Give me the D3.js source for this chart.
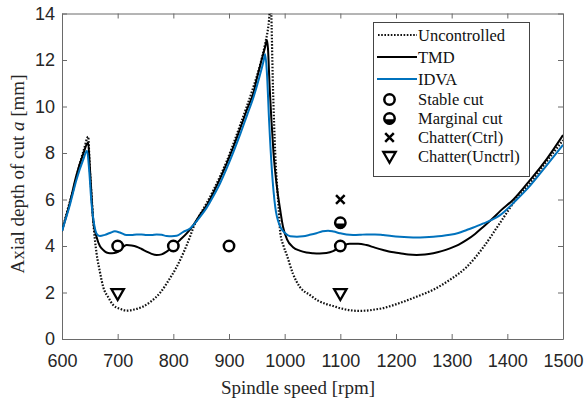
<!DOCTYPE html>
<html>
<head>
<meta charset="utf-8">
<script src="https://cdn.jsdelivr.net/npm/d3@7"></script>
<style>
  html, body { margin: 0; padding: 0; background: #fff; }
  svg { display: block; }
</style>
</head>
<body>
<svg id="chart" width="584" height="403"></svg>
<script>
// ---------- DATA ----------
const xTicks = [600, 700, 800, 900, 1000, 1100, 1200, 1300, 1400, 1500];
const yTicks = [0, 2, 4, 6, 8, 10, 12, 14];

// Uncontrolled (dotted)
const uncRpm = [600,610,620,630,640,647,650,653,656,662,668,674,683,692,704,716,730,745,760,776,791,806,818,830,836,848,860,872,884,896,908,920,932,944,956,965,971,975,979,983,989,992,998,1004,1015,1027,1045,1060,1075,1087,1099,1117,1132,1147,1162,1177,1192,1207,1237,1267,1297,1327,1357,1387,1417,1441,1471,1500];
const uncA   = [4.65,5.55,6.4,7.35,8.2,8.7,7.3,6.2,5.1,3.7,2.9,2.24,1.8,1.46,1.3,1.22,1.27,1.39,1.62,1.98,2.5,3.1,3.7,4.4,4.8,5.35,5.85,6.4,7.0,7.65,8.4,9.2,10.0,10.85,11.8,12.7,13.5,14.4,10.8,8.0,5.7,4.6,4.0,3.6,2.8,2.25,1.9,1.65,1.5,1.42,1.33,1.24,1.21,1.22,1.27,1.33,1.43,1.55,1.82,2.12,2.55,3.1,3.95,5.0,6.05,6.7,7.65,8.55];

// TMD (solid black)
const tmdRpm = [600,614,626,638,647,650,653,656,662,668,674,680,686,694,701,708,716,725,734,743,752,761,770,779,788,800,812,824,836,848,860,872,884,896,908,920,932,944,950,958,965,968,970,973,976,980,986,992,997,1004,1015,1027,1039,1051,1063,1075,1087,1099,1108,1117,1132,1147,1162,1177,1192,1207,1222,1237,1252,1267,1282,1297,1312,1327,1342,1357,1372,1387,1411,1441,1471,1500];
const tmdA   = [4.65,5.85,7.05,7.95,8.45,7.4,6.2,5.1,4.4,4.0,3.83,3.72,3.69,3.7,3.76,3.92,4.04,4.02,3.97,3.87,3.76,3.66,3.61,3.64,3.76,4.0,4.26,4.54,4.9,5.35,5.75,6.3,6.9,7.55,8.27,9.05,9.85,10.6,11.2,11.95,12.57,12.86,12.5,10.85,9.5,7.99,6.55,5.55,4.83,4.3,3.95,3.8,3.72,3.69,3.68,3.7,3.78,3.95,4.05,4.1,4.1,4.04,3.93,3.83,3.74,3.69,3.63,3.61,3.63,3.69,3.78,3.9,4.05,4.26,4.52,4.83,5.15,5.5,6.0,6.84,7.75,8.77];

// IDVA (solid blue)
const idvaRpm = [600,614,626,638,645,649,653,658,663,668,677,686,695,704,716,725,734,743,752,761,770,779,788,797,806,818,830,836,848,860,872,884,896,908,920,932,944,955,962,965,968,972,977,983,992,1001,1010,1022,1033,1045,1057,1068,1078,1088,1099,1111,1123,1135,1147,1162,1177,1192,1207,1222,1237,1252,1267,1282,1297,1312,1327,1342,1357,1372,1387,1417,1441,1471,1500];
const idvaA   = [4.65,5.75,6.85,7.7,8.1,7.2,5.84,4.9,4.5,4.43,4.48,4.56,4.63,4.58,4.47,4.47,4.5,4.5,4.47,4.47,4.5,4.48,4.43,4.42,4.44,4.61,4.75,4.9,5.25,5.65,6.15,6.7,7.35,8.05,8.8,9.6,10.4,11.3,11.95,12.25,11.5,9.4,7.27,5.69,4.83,4.55,4.42,4.4,4.42,4.48,4.55,4.63,4.66,4.62,4.55,4.49,4.47,4.48,4.5,4.5,4.47,4.43,4.4,4.38,4.37,4.38,4.4,4.43,4.48,4.56,4.69,4.82,4.97,5.12,5.33,6.0,6.6,7.48,8.35];

// Experimental cuts
const stableRpm = [700, 800, 900, 1100];
const stableA   = [4, 4, 4, 4];
const marginalRpm = [1100];
const marginalA   = [5];
const chatterCtrlRpm = [1100];
const chatterCtrlA   = [6];
const chatterUnctrlRpm = [700, 1100];
const chatterUnctrlA   = [1.95, 1.95];

const legendLabels = ["Uncontrolled", "TMD", "IDVA", "Stable cut", "Marginal cut", "Chatter(Ctrl)", "Chatter(Unctrl)"];

// ---------- CHART ----------
const svg = d3.select("#chart");
const L = 62, R = 563, T = 13.5, B = 339;
const x = d3.scaleLinear().domain([600, 1500]).range([L, R]);
const y = d3.scaleLinear().domain([0, 14]).range([B, T]);
const BLUE = "#0072BD";
const AXC = "#6a6a6a";
const TXT = "#262626";

svg.append("rect").attr("width", 584).attr("height", 403).attr("fill", "#fff");

svg.append("defs").append("clipPath").attr("id", "clip")
  .append("rect").attr("x", L).attr("y", T).attr("width", R - L).attr("height", B - T);

// Axes
function styleAxis(g) {
  g.select(".domain").attr("stroke", AXC).attr("stroke-width", 1);
  g.selectAll(".tick line").attr("stroke", AXC).attr("stroke-width", 1);
  g.selectAll(".tick text").attr("fill", TXT)
    .style("font-family", "'Liberation Sans', Arial, sans-serif").style("font-size", "18px");
}
const gx = svg.append("g").attr("transform", `translate(0,${B})`)
  .call(d3.axisBottom(x).tickValues(xTicks).tickSize(-5).tickSizeOuter(0).tickFormat(d3.format("d")));
styleAxis(gx);
gx.selectAll(".tick text").attr("y", 27.5).attr("dy", null);

const gy = svg.append("g").attr("transform", `translate(${L},0)`)
  .call(d3.axisLeft(y).tickValues(yTicks).tickSize(-5).tickSizeOuter(0).tickPadding(7));
styleAxis(gy);

const gt = svg.append("g").attr("transform", `translate(0,${T})`)
  .call(d3.axisTop(x).tickValues(xTicks).tickSize(-5).tickSizeOuter(0).tickFormat(""));
styleAxis(gt);
const gr = svg.append("g").attr("transform", `translate(${R},0)`)
  .call(d3.axisRight(y).tickValues(yTicks).tickSize(-5).tickSizeOuter(0).tickFormat(""));
styleAxis(gr);

// Lines
const line = d3.line().x(d => x(d[0])).y(d => y(d[1])).curve(d3.curveMonotoneX);
const plot = svg.append("g").attr("clip-path", "url(#clip)");
const zip = (a, b) => a.map((v, i) => [v, b[i]]);

plot.append("path").datum(zip(uncRpm, uncA)).attr("d", line)
  .attr("fill", "none").attr("stroke", "#111").attr("stroke-width", 2.2).attr("stroke-dasharray", "1.6,1.6");
plot.append("path").datum(zip(tmdRpm, tmdA)).attr("d", line)
  .attr("fill", "none").attr("stroke", "#000").attr("stroke-width", 2);
plot.append("path").datum(zip(idvaRpm, idvaA)).attr("d", line)
  .attr("fill", "none").attr("stroke", BLUE).attr("stroke-width", 2);

// Marker drawers
const MR = 5.2;
function drawCircle(g, cx, cy) {
  g.append("circle").attr("cx", cx).attr("cy", cy).attr("r", MR)
    .attr("fill", "#fff").attr("stroke", "#000").attr("stroke-width", 2.5);
}
function drawMarginal(g, cx, cy) {
  g.append("circle").attr("cx", cx).attr("cy", cy).attr("r", MR)
    .attr("fill", "#fff").attr("stroke", "#000").attr("stroke-width", 2.5);
  g.append("path")
    .attr("d", `M${cx - MR},${cy + 0.8} A${MR},${MR} 0 0 0 ${cx + MR},${cy + 0.8} Z`)
    .attr("fill", "#000");
}
function drawCross(g, cx, cy) {
  const s = 4.3;
  g.append("path").attr("d", `M${cx - s},${cy - s}L${cx + s},${cy + s}M${cx - s},${cy + s}L${cx + s},${cy - s}`)
    .attr("stroke", "#000").attr("stroke-width", 2.5).attr("fill", "none");
}
function drawTri(g, cx, cy) {
  const w = 6.2, h = 6;
  g.append("path").attr("d", `M${cx - w},${cy - h * 0.75}L${cx + w},${cy - h * 0.75}L${cx},${cy + h * 1.05}Z`)
    .attr("stroke", "#000").attr("stroke-width", 2.3).attr("fill", "#fff").attr("stroke-linejoin", "miter");
}

const mk = svg.append("g");
stableRpm.forEach((r, i) => drawCircle(mk, x(r), y(stableA[i])));
marginalRpm.forEach((r, i) => drawMarginal(mk, x(r), y(marginalA[i])));
chatterCtrlRpm.forEach((r, i) => drawCross(mk, x(r), y(chatterCtrlA[i])));
chatterUnctrlRpm.forEach((r, i) => drawTri(mk, x(r), y(chatterUnctrlA[i])));

// Axis labels
const serif = "'Liberation Serif', 'Times New Roman', serif";
svg.append("text").attr("x", 298).attr("y", 394).attr("text-anchor", "middle")
  .style("font-family", serif).style("font-size", "19px").attr("fill", TXT)
  .text("Spindle speed [rpm]");
const yl = svg.append("text").attr("transform", "translate(24,174) rotate(-90)").attr("text-anchor", "middle")
  .style("font-family", serif).style("font-size", "19px").attr("fill", TXT);
yl.append("tspan").text("Axial depth of cut ");
yl.append("tspan").style("font-style", "italic").text("a");
yl.append("tspan").text(" [mm]");

// Legend
const lg = svg.append("g");
lg.append("rect").attr("x", 373.5).attr("y", 22.5).attr("width", 156).attr("height", 154)
  .attr("fill", "#fff").attr("stroke", "#444").attr("stroke-width", 1);
const rowsY = [35, 57, 79, 99.5, 118.5, 137.5, 156.5];
const tx = 418;
lg.append("line").attr("x1", 378).attr("x2", 417).attr("y1", rowsY[0]).attr("y2", rowsY[0])
  .attr("stroke", "#111").attr("stroke-width", 2.2).attr("stroke-dasharray", "1.6,1.6");
lg.append("line").attr("x1", 377).attr("x2", 417).attr("y1", rowsY[1]).attr("y2", rowsY[1])
  .attr("stroke", "#000").attr("stroke-width", 2);
lg.append("line").attr("x1", 377).attr("x2", 417).attr("y1", rowsY[2]).attr("y2", rowsY[2])
  .attr("stroke", BLUE).attr("stroke-width", 2);
drawCircle(lg, 389.5, rowsY[3]);
drawMarginal(lg, 389.5, rowsY[4]);
drawCross(lg, 389.5, rowsY[5]);
drawTri(lg, 389.5, rowsY[6]);
legendLabels.forEach((t, i) => {
  lg.append("text").attr("x", tx).attr("y", rowsY[i]).attr("dy", "0.34em")
    .style("font-family", serif).style("font-size", "16.5px").attr("fill", "#111").text(t);
});
</script>
</body>
</html>
